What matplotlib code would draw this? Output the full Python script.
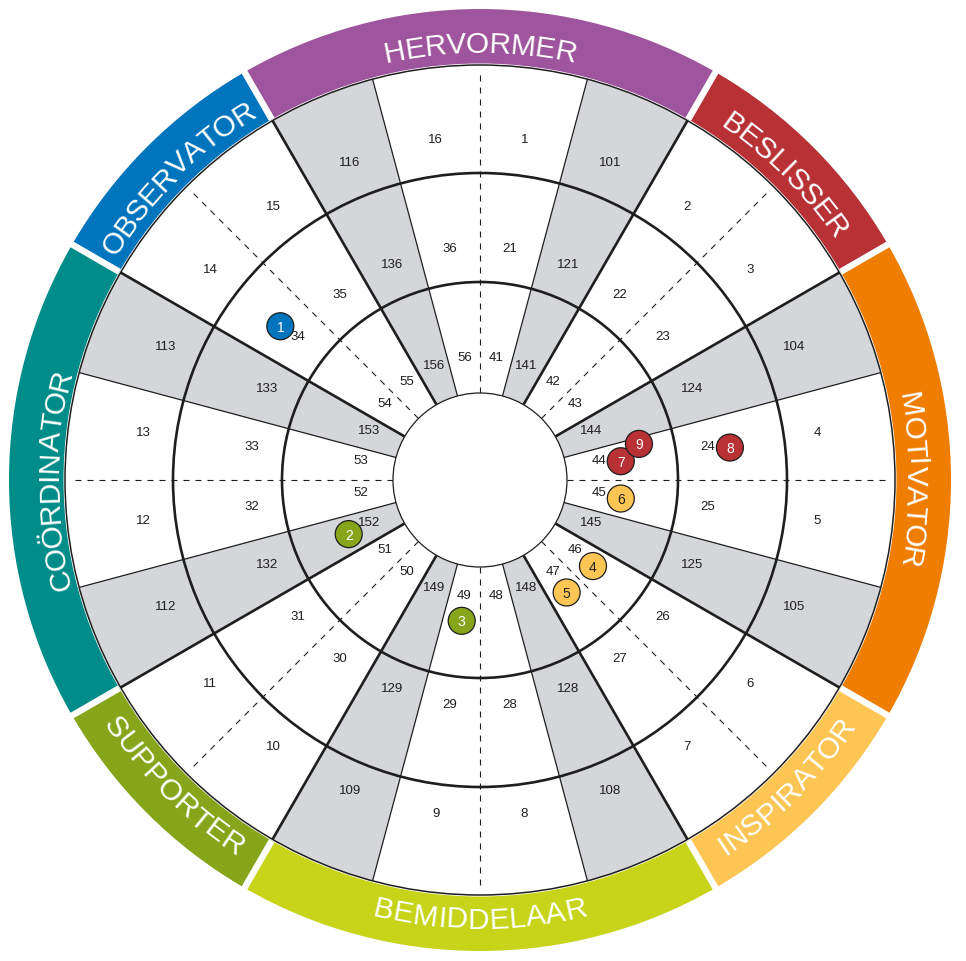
import numpy as np
import matplotlib
matplotlib.use('Agg')
import matplotlib.pyplot as plt
from matplotlib.patches import Wedge, Circle
from matplotlib.font_manager import FontProperties, findfont, get_font

plt.rcParams['font.family'] = ['Liberation Sans', 'DejaVu Sans']

# team roles on the outer band (angles in degrees, counter-clockwise from east)
categories = ['HERVORMER', 'BESLISSER', 'MOTIVATOR', 'INSPIRATOR',
              'BEMIDDELAAR', 'SUPPORTER', 'COÖRDINATOR', 'OBSERVATOR']
cat_start = [60, 30, -30, -60, -120, -150, 150, 120]
cat_end = [120, 60, 30, -30, -60, -120, 210, 150]
cat_colors = ['#9E559D', '#B73135', '#EE7D00', '#FDC554',
              '#C8D41A', '#87A51B', '#008D89', '#0074BD']
cat_upright = [True, True, True, False, False, False, True, True]

# cell numbers, 24 cells of 15 deg, clockwise starting at 12 o'clock
# numbers above 100 are the grey cells
outer_ring = [1, 101, 2, 3, 104, 4, 5, 105, 6, 7, 108, 8,
              9, 109, 10, 11, 112, 12, 13, 113, 14, 15, 116, 16]
middle_ring = [21, 121, 22, 23, 124, 24, 25, 125, 26, 27, 128, 28,
               29, 129, 30, 31, 132, 32, 33, 133, 34, 35, 136, 36]
inner_ring = [41, 141, 42, 43, 144, 44, 45, 145, 46, 47, 148, 48,
              49, 149, 50, 51, 152, 52, 53, 153, 54, 55, 156, 56]

# scored points (angle in degrees, radius in chart units)
marker_ids = [1, 2, 3, 4, 5, 6, 7, 8, 9]
marker_angle = [142.4, -157.6, -97.4, -37.3, -52.4, -7.5, 7.6, 7.4, 12.8]
marker_radius = [252, 142, 142, 142, 142, 142, 142, 252, 163]
marker_colors = ['#0074BD', '#87A51B', '#87A51B', '#FDC554', '#FDC554',
                 '#FDC554', '#B73135', '#B73135', '#B73135']
marker_text = ['white', 'white', 'white', '#222222', '#222222',
               '#222222', 'white', 'white', 'white']

# geometry
R_HOLE = 87
R_RING1 = 198
R_RING2 = 307
R_DISC = 415
R_BAND_IN = 416.5
R_BAND_OUT = 471
GREY = '#D5D6DA'
INK = '#1E1E1E'

fig = plt.figure(figsize=(9.66, 9.61), dpi=100)
ax = fig.add_axes([0, 0, 1, 1])
ax.set_xlim(-480, 486)
ax.set_ylim(-481, 480)
ax.axis('off')


def pol(r, a):
    t = np.deg2rad(a)
    return r * np.cos(t), r * np.sin(t)


#### cells
rings = [(R_HOLE, R_RING1, inner_ring, 120),
         (R_RING1, R_RING2, middle_ring, 230),
         (R_RING2, R_DISC, outer_ring, 340)]
for r0, r1, nums, r_lab in rings:
    for k, n in enumerate(nums):
        a_hi = 90 - 15 * k
        a_lo = a_hi - 15
        fc = GREY if n > 100 else 'white'
        ax.add_patch(Wedge((0, 0), r1, a_lo, a_hi, width=r1 - r0,
                           facecolor=fc, edgecolor='none', zorder=1))
        x, y = pol(r_lab, (a_lo + a_hi) / 2)
        ax.text(x, y, str(n), ha='center', va='baseline', fontsize=9.5,
                color=INK, zorder=6)

#### spokes
for a in range(0, 360, 15):
    if a % 45 == 0:
        x0, y0 = pol(R_HOLE, a)
        x1, y1 = pol(408, a)
        ax.plot([x0, x1], [y0, y1], color=INK, lw=0.8,
                linestyle=(0, (5.4, 5.4)), zorder=2)
    else:
        thick = any((a - s) % 360 == 0 for s in cat_start)
        x0, y0 = pol(R_HOLE, a)
        x1, y1 = pol(R_DISC, a)
        ax.plot([x0, x1], [y0, y1], color=INK, lw=1.9 if thick else 0.9,
                solid_capstyle='butt', zorder=3)

#### circles
ax.add_patch(Circle((0, 0), R_HOLE, facecolor='white', edgecolor=INK,
                    lw=0.9, zorder=4))
for r in [R_RING1, R_RING2]:
    ax.add_patch(Circle((0, 0), r, fill=False, edgecolor=INK, lw=1.9, zorder=4))
ax.add_patch(Circle((0, 0), R_DISC, fill=False, edgecolor=INK, lw=1.1, zorder=4))

#### coloured band
for s, e, c in zip(cat_start, cat_end, cat_colors):
    ax.add_patch(Wedge((0, 0), R_BAND_OUT, s, e, width=R_BAND_OUT - R_BAND_IN,
                       facecolor=c, edgecolor='none', zorder=1))
for s in cat_start:
    x0, y0 = pol(R_BAND_IN, s)
    x1, y1 = pol(R_BAND_OUT + 10, s)
    ax.plot([x0, x1], [y0, y1], color='white', lw=4.6,
            solid_capstyle='butt', zorder=2)

# curved labels, one character at a time
BAND_FS = 21.5
fp = FontProperties(family='Liberation Sans', size=BAND_FS)
ft = get_font(findfont(fp))
ft.set_size(BAND_FS, fig.dpi)
cap = 0.716 * BAND_FS * fig.dpi / 72


def arc_text(label, mid, r, upright):
    adv = [ft.load_char(ord(ch)).linearHoriAdvance / 65536 for ch in label]
    total = sum(adv)
    cum = 0
    for ch, w in zip(label, adv):
        d = np.rad2deg((cum + w / 2) / r)
        half = np.rad2deg(total / 2 / r)
        if upright:
            ang = mid + half - d
            rot = ang - 90
            rb = r - cap / 2
        else:
            ang = mid - half + d
            rot = ang + 90
            rb = r + cap / 2
        x, y = pol(rb, ang)
        ax.text(x, y, ch, fontsize=BAND_FS, color='white', ha='center',
                va='baseline', rotation=rot, rotation_mode='anchor', zorder=7)
        cum += w


for name, s, e, up in zip(categories, cat_start, cat_end, cat_upright):
    r_txt = 433 if name == 'COÖRDINATOR' else 438
    arc_text(name, (s + e) / 2, r_txt, up)

#### markers
for i, a, r, c, tc in zip(marker_ids, marker_angle, marker_radius,
                          marker_colors, marker_text):
    x, y = pol(r, a)
    ax.add_patch(Circle((x, y), 13.5, facecolor=c, edgecolor=INK, lw=0.9,
                        zorder=8 + i * 0.01))
    ax.text(x, y, str(i), ha='center', va='center_baseline', fontsize=10,
            color=tc, zorder=9)

fig.savefig('out.png', dpi=100)
